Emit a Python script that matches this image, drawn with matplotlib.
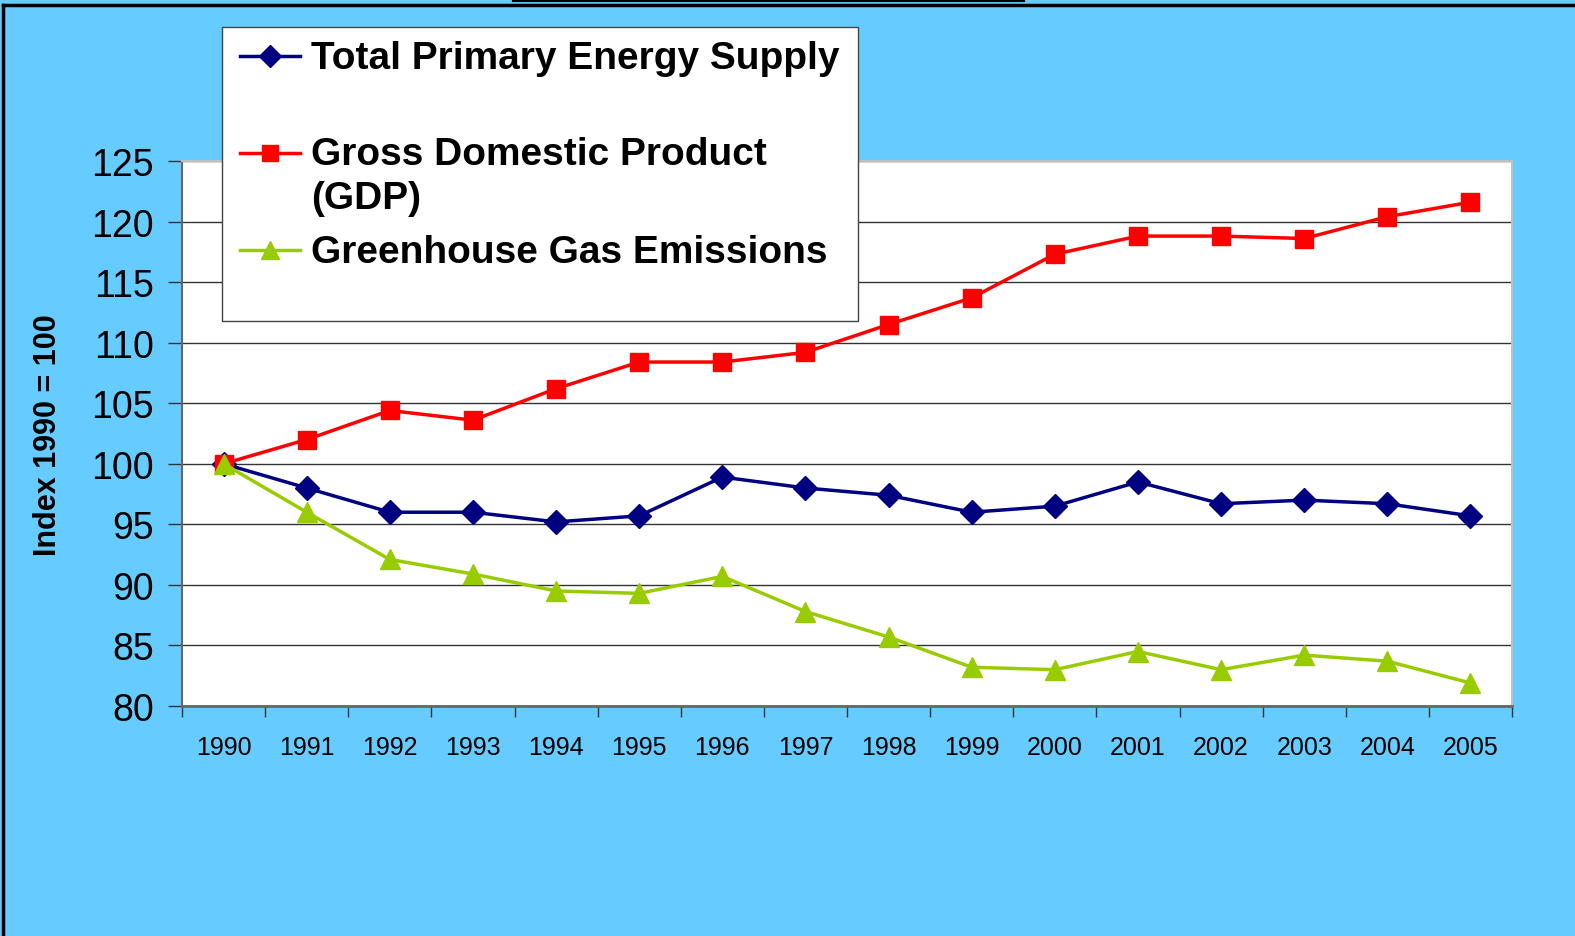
import matplotlib
matplotlib.use("Agg")
import matplotlib.pyplot as plt
from matplotlib.lines import Line2D
from matplotlib.patches import Rectangle
import numpy as np

years = ["1990", "1991", "1992", "1993", "1994", "1995", "1996", "1997",
         "1998", "1999", "2000", "2001", "2002", "2003", "2004", "2005"]
tpes = [100, 98.0, 96.0, 96.0, 95.2, 95.7, 98.9, 98.0, 97.4, 96.0, 96.5, 98.5, 96.7, 97.0, 96.7, 95.7]
gdp = [100, 102.0, 104.4, 103.6, 106.2, 108.4, 108.4, 109.2, 111.5, 113.7, 117.3, 118.8, 118.8, 118.6, 120.4, 121.6]
ghg = [100, 96.0, 92.1, 90.9, 89.5, 89.3, 90.7, 87.8, 85.7, 83.2, 83.0, 84.5, 83.0, 84.2, 83.7, 81.9]
labels = ["Total Primary Energy Supply", "Gross Domestic Product\n(GDP)", "Greenhouse Gas Emissions"]
yticks = [80, 85, 90, 95, 100, 105, 110, 115, 120, 125]

BG = "#66CCFF"
C_TPES = "#000080"
C_GDP = "#FF0000"
C_GHG = "#99CC00"
FONT = "Liberation Sans"

W, H = 1575, 937
fig = plt.figure(figsize=(W / 100, H / 100), dpi=100, facecolor=BG)
ax = fig.add_axes([182 / W, 1 - 707 / H, (1512 - 182) / W, (707 - 162) / H])
ax.set_facecolor("white")

x = np.arange(len(years))
l1, = ax.plot(x, tpes, color=C_TPES, lw=2.5, marker="D", ms=12, zorder=3)
l2, = ax.plot(x, gdp, color=C_GDP, lw=2.5, marker="s", ms=13, zorder=3)
l3, = ax.plot(x, ghg, color=C_GHG, lw=2.5, marker="^", ms=15, zorder=3)

ax.set_xlim(-0.5, len(years) - 0.5)
ax.set_ylim(80, 125)
ax.set_yticks(yticks)
ax.set_yticklabels([str(v) for v in yticks], fontsize=27, family=FONT)
ax.tick_params(axis="y", length=10, width=1, direction="out", pad=10, color="#333333")
ax.set_xticks(x)
ax.set_xticklabels(years, fontsize=18, family=FONT)
ax.tick_params(axis="x", which="major", length=0, pad=21)
ax.set_xticks(np.arange(-0.5, len(years)), minor=True)
ax.tick_params(axis="x", which="minor", length=8, width=1, direction="out", color="#333333")

ax.yaxis.grid(True, color="#333333", lw=1)
ax.set_axisbelow(True)
for s in ["top", "right"]:
    ax.spines[s].set_color("#C0C0C0")
    ax.spines[s].set_linewidth(1.5)
ax.spines["left"].set_color("#666666")
ax.spines["left"].set_linewidth(1.5)
ax.spines["bottom"].set_color("#666666")
ax.spines["bottom"].set_linewidth(2)

fig.text(48 / W, 1 - 435 / H, "Index 1990 = 100", rotation=90, ha="center", va="center",
         fontsize=22, fontweight="bold", family=FONT)

# legend box
fig.add_artist(Rectangle((222 / W, 1 - 322 / H), (858 - 222) / W, (322 - 28) / H,
                         transform=fig.transFigure, facecolor="white", edgecolor="#444444",
                         lw=1, zorder=5))
handles = [l1, l2, l3]
ys = [57, 154, 251]
for h, lab, yy in zip(handles, labels, ys):
    yf = 1 - yy / H
    fig.add_artist(Line2D([240 / W, 300 / W], [yf, yf], transform=fig.transFigure,
                          color=h.get_color(), lw=h.get_linewidth(), zorder=6))
    fig.add_artist(Line2D([270 / W], [yf], transform=fig.transFigure, marker=h.get_marker(),
                          ms=h.get_markersize() * 0.9, color=h.get_color(), lw=0, zorder=6))
    if "\n" in lab:
        fig.text(311 / W, 1 - (yy - 17) / H, lab, ha="left", va="top", fontsize=28,
                 fontweight="bold", family=FONT, zorder=7, linespacing=1.3)
    else:
        fig.text(311 / W, 1 - (yy + 2) / H, lab, ha="left", va="center", fontsize=28,
                 fontweight="bold", family=FONT, zorder=7)

# slide frame lines
fig.add_artist(Line2D([3 / W, 1], [1 - 6 / H, 1 - 6 / H], transform=fig.transFigure, color="black", lw=2.5))
fig.add_artist(Line2D([3 / W, 3 / W], [0, 1 - 6 / H], transform=fig.transFigure, color="black", lw=2.5))
fig.add_artist(Line2D([514 / W, 1023 / W], [1 - 1 / H, 1 - 1 / H], transform=fig.transFigure, color="black", lw=3))

fig.savefig("out.png", dpi=100, facecolor=BG)
